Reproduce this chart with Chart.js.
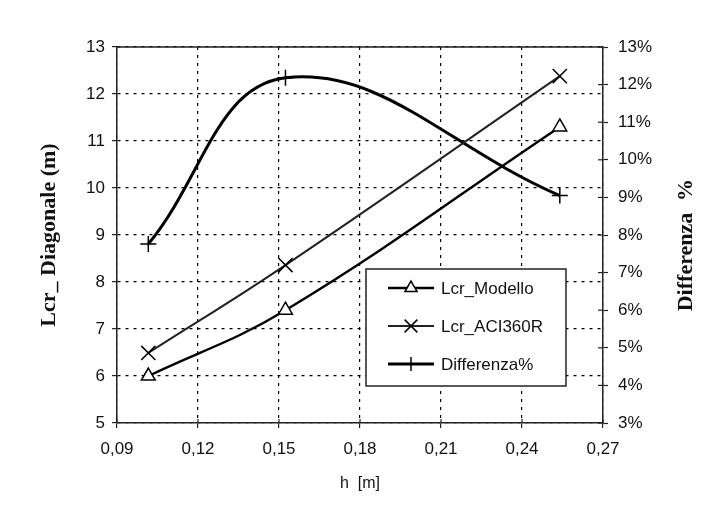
<!DOCTYPE html>
<html>
<head>
<meta charset="utf-8">
<script src="https://cdn.jsdelivr.net/npm/chart.js@4/dist/chart.umd.min.js"></script>
<style>
  html, body { margin: 0; padding: 0; background: #fff; }
  #wrap { width: 724px; height: 513px; position: relative; }
</style>
</head>
<body>
<div id="wrap"><canvas id="c" width="724" height="513"></canvas></div>
<script>
// ---- data ----
const hValues      = [0.1016, 0.1524, 0.254];      // h [m]
const lcrModello   = [6.0, 7.4, 11.3];             // Lcr_Modello (m)
const lcrACI360R   = [6.49, 8.36, 12.38];          // Lcr_ACI360R (m)
const differenza   = [7.76, 12.18, 9.05];          // Differenza %
const seriesLabels = ['Lcr_Modello', 'Lcr_ACI360R', 'Differenza%'];
const xTicks       = [0.09, 0.12, 0.15, 0.18, 0.21, 0.24, 0.27];
const yLeftRange   = [5, 13];
const yRightRange  = [3, 13];
const xTitle       = 'h  [m]';
const yLeftTitle   = 'Lcr_ Diagonale (m)';
const yRightTitle  = ['Differenza', '%'];

const pts = (ys) => hValues.map((x, i) => ({ x: x, y: ys[i] }));
const SANS = '"Liberation Sans", Arial, sans-serif';
const SERIF = '"Liberation Serif", "Times New Roman", serif';

const extras = {
  id: 'extras',
  afterDatasetsDraw(chart) {
    const ctx = chart.ctx;
    const a = chart.chartArea;
    ctx.save();
    // top border of plot frame
    ctx.strokeStyle = '#222';
    ctx.lineWidth = 1.5;
    ctx.beginPath();
    ctx.moveTo(a.left, a.top);
    ctx.lineTo(a.right, a.top);
    ctx.stroke();
    // inward halves of the crossing tick marks (right axis and x axis)
    ctx.lineWidth = 1.2;
    const y2 = chart.scales.y2;
    y2.ticks.forEach(t => {
      const py = y2.getPixelForValue(t.value);
      ctx.beginPath(); ctx.moveTo(a.right - 5, py); ctx.lineTo(a.right, py); ctx.stroke();
    });
    const xs = chart.scales.x;
    xs.ticks.forEach(t => {
      const px = xs.getPixelForValue(t.value);
      ctx.beginPath(); ctx.moveTo(px, a.bottom - 4); ctx.lineTo(px, a.bottom); ctx.stroke();
    });

    // legend box
    const bx = 366, by = 269, bw = 200, bh = 117;
    ctx.fillStyle = '#fff';
    ctx.fillRect(bx, by, bw, bh);
    ctx.strokeStyle = '#222';
    ctx.lineWidth = 1.5;
    ctx.strokeRect(bx, by, bw, bh);
    const rows = [288, 326, 364];
    chart.data.datasets.forEach((ds, i) => {
      const yy = rows[i];
      ctx.strokeStyle = ds.borderColor;
      ctx.lineWidth = ds.borderWidth;
      ctx.beginPath(); ctx.moveTo(388, yy); ctx.lineTo(434, yy); ctx.stroke();
      ctx.fillStyle = ds.pointBackgroundColor;
      ctx.strokeStyle = '#000';
      ctx.lineWidth = ds.pointBorderWidth;
      Chart.helpers.drawPoint(ctx, {
        pointStyle: ds.pointStyle, radius: ds.pointRadius - 1, rotation: 0, borderWidth: ds.pointBorderWidth
      }, 411, yy);
      ctx.fillStyle = '#111';
      ctx.font = '17px ' + SANS;
      ctx.textAlign = 'left';
      ctx.textBaseline = 'middle';
      ctx.fillText(ds.label, 441, yy + 1);
    });

    // right axis title (reads bottom-to-top)
    ctx.fillStyle = '#111';
    ctx.font = 'bold 22px ' + SERIF;
    ctx.textBaseline = 'middle';
    ctx.textAlign = 'center';
    ctx.translate(686, 262);
    ctx.rotate(-Math.PI / 2);
    ctx.fillText(yRightTitle[0], 0, 0);
    ctx.fillText(yRightTitle[1], 72, 0);
    ctx.restore();
  }
};

new Chart(document.getElementById('c'), {
  type: 'line',
  data: {
    datasets: [
      {
        label: seriesLabels[0], data: pts(lcrModello), yAxisID: 'y',
        borderColor: '#000', borderWidth: 2.4, tension: 0.4,
        pointStyle: 'triangle', pointRadius: 8, pointBorderWidth: 1.5,
        pointBackgroundColor: '#fff', pointBorderColor: '#000'
      },
      {
        label: seriesLabels[1], data: pts(lcrACI360R), yAxisID: 'y',
        borderColor: '#222', borderWidth: 2, tension: 0.4,
        pointStyle: 'crossRot', pointRadius: 10, pointBorderWidth: 1.5,
        pointBackgroundColor: '#fff', pointBorderColor: '#000'
      },
      {
        label: seriesLabels[2], data: pts(differenza), yAxisID: 'y2',
        borderColor: '#000', borderWidth: 3, tension: 0.4,
        pointStyle: 'cross', pointRadius: 8, pointBorderWidth: 1.5,
        pointBackgroundColor: '#fff', pointBorderColor: '#000'
      }
    ]
  },
  options: {
    responsive: false,
    animation: false,
    devicePixelRatio: 1,
    layout: { padding: { top: 47, left: 0, right: 0, bottom: 0 } },
    plugins: { legend: { display: false }, tooltip: { enabled: false } },
    scales: {
      x: {
        type: 'linear', position: 'bottom',
        min: xTicks[0], max: xTicks[xTicks.length - 1],
        afterBuildTicks: s => { s.ticks = xTicks.map(v => ({ value: v })); },
        afterFit: s => { s.height = 90; },
        ticks: {
          color: '#111', font: { family: SANS, size: 17 }, padding: 11,
          maxRotation: 0, autoSkip: false,
          callback: v => Number(v).toFixed(2).replace('.', ',')
        },
        grid: { color: '#000', lineWidth: 1.2, tickLength: 5, tickColor: '#222', tickWidth: 1.2 },
        border: { color: '#222', width: 1.5, dash: [3, 5] },
        title: { display: true, text: xTitle, color: '#111', font: { family: SANS, size: 16 }, padding: { top: 0, bottom: 20 } }
      },
      y: {
        type: 'linear', position: 'left',
        min: yLeftRange[0], max: yLeftRange[1],
        afterFit: s => { s.width = 117; },
        ticks: { stepSize: 1, color: '#111', font: { family: SANS, size: 17 }, padding: 7 },
        grid: { color: '#000', lineWidth: 1.2, tickLength: 5, tickColor: '#222', tickWidth: 1.2 },
        border: { color: '#222', width: 1.5, dash: [3, 5] },
        title: { display: true, text: yLeftTitle, color: '#111', font: { family: SERIF, size: 22, weight: 'bold' }, padding: { top: 36, bottom: 0 } }
      },
      y2: {
        type: 'linear', position: 'right',
        min: yRightRange[0], max: yRightRange[1],
        afterFit: s => { s.width = 121; },
        ticks: { stepSize: 1, color: '#111', font: { family: SANS, size: 17 }, padding: 10, callback: v => v + '%' },
        grid: { drawOnChartArea: false, tickLength: 5, tickColor: '#222', tickWidth: 1.2 },
        border: { color: '#222', width: 1.5 }
      }
    }
  },
  plugins: [extras]
});
</script>
</body>
</html>
